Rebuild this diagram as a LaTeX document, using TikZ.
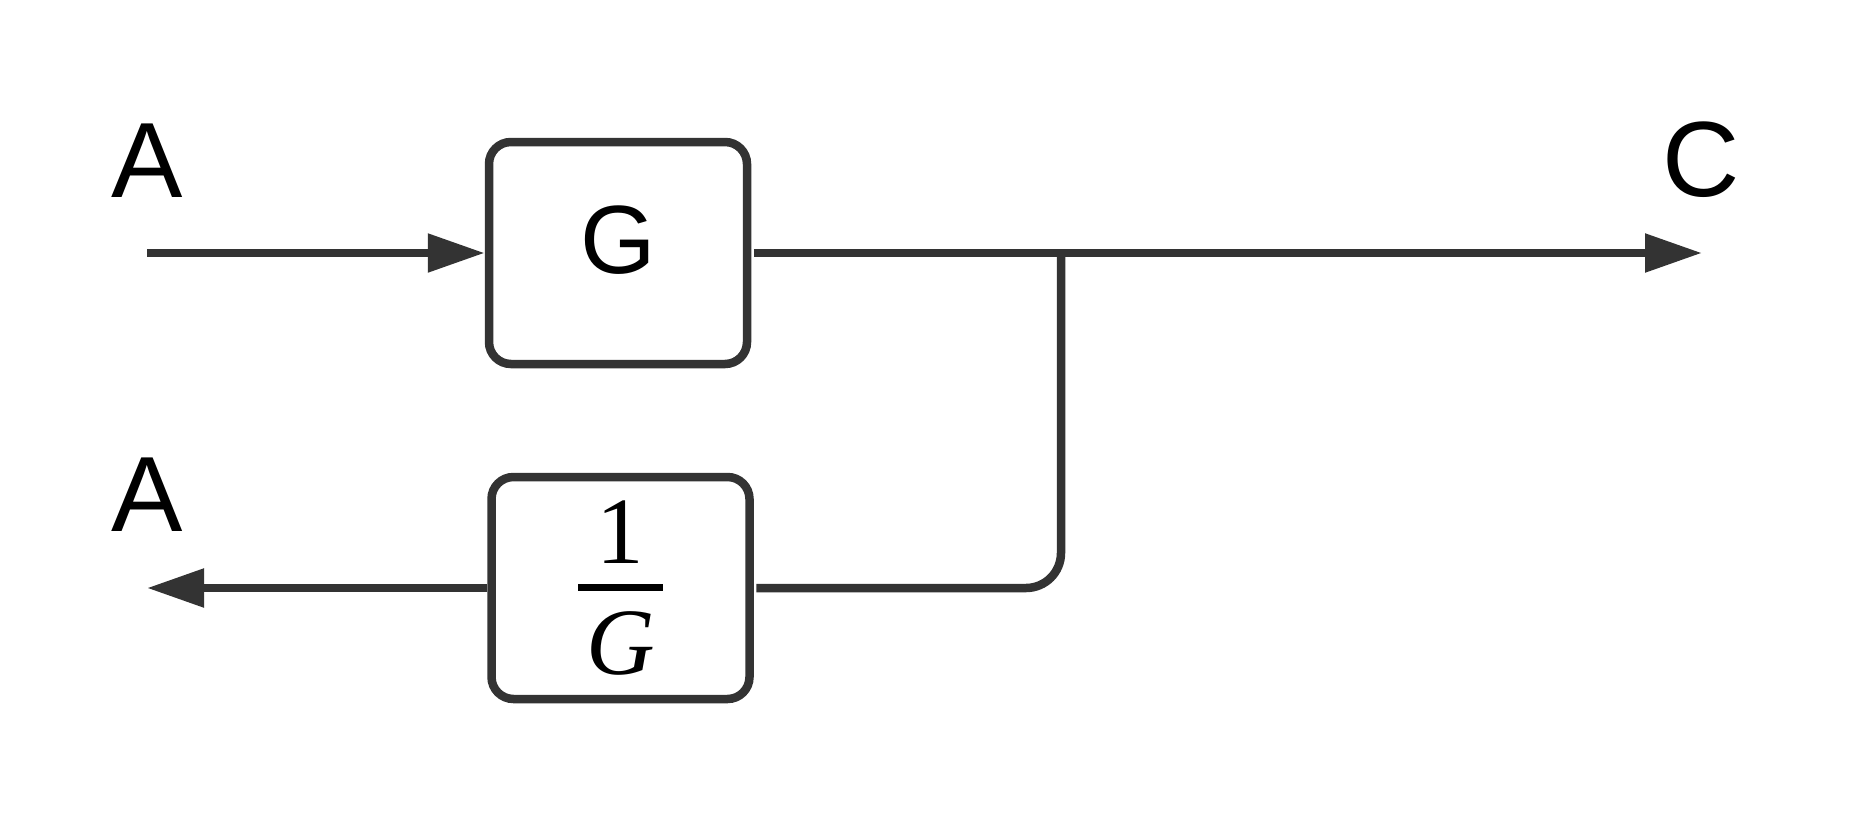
\documentclass[tikz,border=0pt]{standalone}
\usepackage{fontspec}
\setmainfont{Liberation Sans}
\newfontfamily\serifface{Liberation Serif}
\usetikzlibrary{arrows.meta}
\definecolor{ink}{HTML}{333333}
\begin{document}
\begin{tikzpicture}[x=1pt,y=-1pt,
  block/.style={draw=ink, line width=8.5pt, rounded corners=22pt,
    minimum width=258pt, minimum height=222pt, inner sep=0pt},
  wire/.style={draw=ink, line width=8.5pt},
  flow/.style={wire, -{Triangle[length=57pt,width=37pt]}},
  sig/.style={font=\fontsize{107pt}{110pt}\selectfont, inner sep=0pt},
]
\useasboundingbox (0,0) rectangle (1856,814);

% forward block G (glyph set a little above the middle)
\node[block, text height=69.5pt, text depth=28pt,
  font=\fontsize{97pt}{100pt}\selectfont] (g) at (618,253) {G};

% inverse block 1/G
\node[block] (h) at (620.5,588) {%
  \serifface\fontsize{95pt}{95pt}\selectfont
  \vbox{\hbox to 85pt{\hfil 1\hfil}\kern21pt
        \hrule height 7pt\kern20pt
        \hbox to 85pt{\hfil\itshape G\hfil}}};

% signal labels
\node[sig] (inlabel) at (147,160.5) {A};
\node[sig] (backlabel) at (147,495) {A};
\node[sig] (outlabel) at (1701,160) {C};

% connector end points
\coordinate (inA) at (147,253);
\coordinate (j) at (1061,253);
\coordinate (outC) at (1702,253);
\coordinate (outA) at (147,588);

\draw[flow] (inA) -- (g.west);
\draw[flow, shorten <=2.5pt] (g.east) -- (outC);
\draw[wire, rounded corners=35pt, shorten >=2.5pt] (j) |- (h.east);
\draw[flow] (h.west) -- (outA);
\end{tikzpicture}
\end{document}
